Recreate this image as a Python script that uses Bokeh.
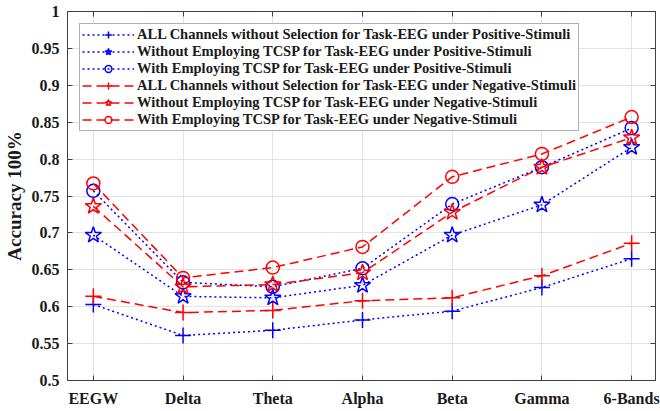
from bokeh.plotting import figure
from bokeh.models import (Range1d, FixedTicker, LinearAxis, Legend, LegendItem,
                          CustomLabelingPolicy)
from bokeh.embed import file_html
from bokeh.resources import INLINE

categories = ["EEGW", "Delta", "Theta", "Alpha", "Beta", "Gamma", "6-Bands"]
y_ticks = [0.5, 0.55, 0.6, 0.65, 0.7, 0.75, 0.8, 0.85, 0.9, 0.95, 1.0]
y_tick_labels = ["0.5", "0.55", "0.6", "0.65", "0.7", "0.75", "0.8", "0.85", "0.9", "0.95", "1"]

all_pos = [0.603, 0.561, 0.568, 0.582, 0.594, 0.626, 0.665]
without_pos = [0.697, 0.614, 0.612, 0.629, 0.697, 0.738, 0.816]
with_pos = [0.757, 0.633, 0.627, 0.652, 0.739, 0.789, 0.842]
all_neg = [0.614, 0.592, 0.595, 0.608, 0.612, 0.642, 0.686]
without_neg = [0.736, 0.627, 0.630, 0.646, 0.728, 0.789, 0.829]
with_neg = [0.767, 0.639, 0.653, 0.681, 0.776, 0.807, 0.857]

labels = [
    "ALL Channels without Selection for Task-EEG under Positive-Stimuli",
    "Without Employing TCSP for Task-EEG under Positive-Stimuli",
    "With Employing TCSP for Task-EEG under Positive-Stimuli",
    "ALL Channels without Selection for Task-EEG under Negative-Stimuli",
    "Without Employing TCSP for Task-EEG under Negative-Stimuli",
    "With Employing TCSP for Task-EEG under Negative-Stimuli",
]

x = list(range(1, len(categories) + 1))
FONT = "Liberation Serif"
AX = "#404040"

p = figure(width=660, height=411, output_backend="svg", toolbar_location=None,
           x_range=Range1d(0.712, 7.266), y_range=Range1d(0.5, 1.0),
           min_border_left=66, min_border_right=3, min_border_top=11, min_border_bottom=31)
p.background_fill_color = "white"
p.border_fill_color = "white"
p.outline_line_color = AX
p.outline_line_width = 1

# bottom / left axes
p.xaxis.ticker = FixedTicker(ticks=x)
p.xaxis.major_label_overrides = {i: c for i, c in zip(x, categories)}
p.yaxis.ticker = FixedTicker(ticks=y_ticks)
p.yaxis.major_label_overrides = {t: l for t, l in zip(y_ticks, y_tick_labels)}
for ax in [p.xaxis[0], p.yaxis[0]]:
    ax.major_tick_in = 5
    ax.major_tick_out = 0
    ax.minor_tick_in = 0
    ax.minor_tick_out = 0
    ax.axis_line_color = AX
    ax.major_tick_line_color = AX
    ax.major_label_text_font = FONT
    ax.major_label_text_font_style = "bold"
    ax.major_label_text_color = "#1a1a1a"
    ax.major_label_text_font_size = "16px"
p.xaxis.major_label_standoff = 9
p.yaxis.major_label_standoff = 8
p.yaxis.axis_label = "Accuracy 100%"
p.yaxis.axis_label_text_font = FONT
p.yaxis.axis_label_text_font_style = "bold"
p.yaxis.axis_label_text_font_size = "19px"
p.yaxis.axis_label_text_color = "#1a1a1a"
p.yaxis.axis_label_standoff = 4

# top / right tick-only axes (no labels drawn)
top = LinearAxis(ticker=FixedTicker(ticks=x),
                 major_label_policy=CustomLabelingPolicy(code="return new Set()"))
right = LinearAxis(ticker=FixedTicker(ticks=y_ticks),
                   major_label_policy=CustomLabelingPolicy(code="return new Set()"))
for ax in [top, right]:
    ax.major_tick_in = 5
    ax.major_tick_out = 0
    ax.minor_tick_in = 0
    ax.minor_tick_out = 0
    ax.major_label_text_font_size = "1px"
    ax.major_label_standoff = 0
    ax.axis_line_color = AX
    ax.major_tick_line_color = AX
p.add_layout(top, "above")
p.add_layout(right, "right")

p.xgrid.ticker = FixedTicker(ticks=x)
p.ygrid.ticker = FixedTicker(ticks=y_ticks)
p.grid.grid_line_color = "#e3e3e3"
p.grid.grid_line_width = 1

series = [
    (all_pos, "blue", "dotted", "cross", 16),
    (without_pos, "blue", "dotted", "star", 17),
    (with_pos, "blue", "dotted", "circle", 13),
    (all_neg, "red", "dashed", "cross", 16),
    (without_neg, "red", "dashed", "star", 17),
    (with_neg, "red", "dashed", "circle", 13),
]

items = []
for (vals, col, dash, mk, sz), lab in zip(series, labels):
    dash_str = "2 3" if dash == "dotted" else "9 5"
    ln = p.line(x, vals, line_color=col, line_width=1.5, line_dash=dash_str)
    sc = p.scatter(x, vals, marker=mk, size=sz, line_color=col, fill_color=None, line_width=1.5)
    items.append(LegendItem(label=lab, renderers=[ln, sc]))

legend = Legend(items=items, location="top_left")
legend.margin = 12
legend.padding = 2
legend.spacing = 0
legend.glyph_height = 17
legend.glyph_width = 52
legend.label_height = 17
legend.label_standoff = 3
legend.label_text_font = FONT
legend.label_text_font_style = "bold"
legend.label_text_font_size = "14.5px"
legend.label_text_color = "#1a1a1a"
legend.border_line_color = "#606060"
legend.border_line_width = 1
legend.background_fill_color = "white"
legend.background_fill_alpha = 1
p.add_layout(legend, "center")

open("out.html", "w").write(file_html(p, INLINE))
